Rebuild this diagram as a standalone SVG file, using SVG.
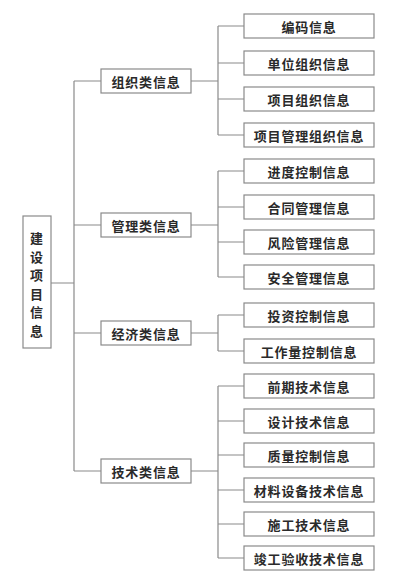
<svg xmlns="http://www.w3.org/2000/svg" width="405" height="579" viewBox="0 0 405 579">
<style>
.box{fill:#fff;stroke:#8a8a8a;stroke-width:1.2}
.t{font-family:"Noto Sans CJK SC","Noto Sans CJK JP",sans-serif;font-size:13px;font-weight:bold;fill:#2a2a2a;text-anchor:middle;dominant-baseline:central;letter-spacing:0.8px}
.ln{stroke:#8a8a8a;stroke-width:1.2;fill:none}
</style>
<rect width="405" height="579" fill="#fff"/>
<g id="connectors">
<path class="ln" d="M51,283H74M74,81V471M74,81H101M74,225H101M74,333H101M74,471H101"/>
<path class="ln" d="M191,81H218M218,26V135M218,26H244M218,63H244M218,99H244M218,135H244"/>
<path class="ln" d="M191,225H218M218,171V277M218,171H244M218,207H244M218,242H244M218,277H244"/>
<path class="ln" d="M191,333H218M218,315V351M218,315H244M218,351H244"/>
<path class="ln" d="M191,471H218M218,386V558M218,386H244M218,421H244M218,455H244M218,490H244M218,524H244M218,558H244"/>
</g>
<g id="root">
<rect class="box" x="23" y="216" width="28" height="132"/>
<text class="t" x="37" y="237">建</text>
<text class="t" x="37" y="256">设</text>
<text class="t" x="37" y="274">项</text>
<text class="t" x="37" y="293">目</text>
<text class="t" x="37" y="311">信</text>
<text class="t" x="37" y="330">息</text>
</g>
<g id="cat1"><rect class="box" x="101" y="69" width="90" height="24"/><text class="t" x="146" y="81">组织类信息</text></g>
<g id="cat2"><rect class="box" x="101" y="213" width="90" height="24"/><text class="t" x="146" y="225">管理类信息</text></g>
<g id="cat3"><rect class="box" x="101" y="321" width="90" height="24"/><text class="t" x="146" y="333">经济类信息</text></g>
<g id="cat4"><rect class="box" x="101" y="459" width="90" height="24"/><text class="t" x="146" y="471">技术类信息</text></g>
<g id="l1"><rect class="box" x="244" y="14" width="130" height="24"/><text class="t" x="309" y="26">编码信息</text></g>
<g id="l2"><rect class="box" x="244" y="51" width="130" height="24"/><text class="t" x="309" y="63">单位组织信息</text></g>
<g id="l3"><rect class="box" x="244" y="87" width="130" height="24"/><text class="t" x="309" y="99">项目组织信息</text></g>
<g id="l4"><rect class="box" x="244" y="123" width="130" height="24"/><text class="t" x="309" y="135">项目管理组织信息</text></g>
<g id="l5"><rect class="box" x="244" y="159" width="130" height="24"/><text class="t" x="309" y="171">进度控制信息</text></g>
<g id="l6"><rect class="box" x="244" y="195" width="130" height="24"/><text class="t" x="309" y="207">合同管理信息</text></g>
<g id="l7"><rect class="box" x="244" y="230" width="130" height="24"/><text class="t" x="309" y="242">风险管理信息</text></g>
<g id="l8"><rect class="box" x="244" y="265" width="130" height="24"/><text class="t" x="309" y="277">安全管理信息</text></g>
<g id="l9"><rect class="box" x="244" y="303" width="130" height="24"/><text class="t" x="309" y="315">投资控制信息</text></g>
<g id="l10"><rect class="box" x="244" y="339" width="130" height="24"/><text class="t" x="309" y="351">工作量控制信息</text></g>
<g id="l11"><rect class="box" x="244" y="374" width="130" height="24"/><text class="t" x="309" y="386">前期技术信息</text></g>
<g id="l12"><rect class="box" x="244" y="409" width="130" height="24"/><text class="t" x="309" y="421">设计技术信息</text></g>
<g id="l13"><rect class="box" x="244" y="443" width="130" height="24"/><text class="t" x="309" y="455">质量控制信息</text></g>
<g id="l14"><rect class="box" x="244" y="478" width="130" height="24"/><text class="t" x="309" y="490">材料设备技术信息</text></g>
<g id="l15"><rect class="box" x="244" y="512" width="130" height="24"/><text class="t" x="309" y="524">施工技术信息</text></g>
<g id="l16"><rect class="box" x="244" y="546" width="130" height="24"/><text class="t" x="309" y="558">竣工验收技术信息</text></g>
</svg>
